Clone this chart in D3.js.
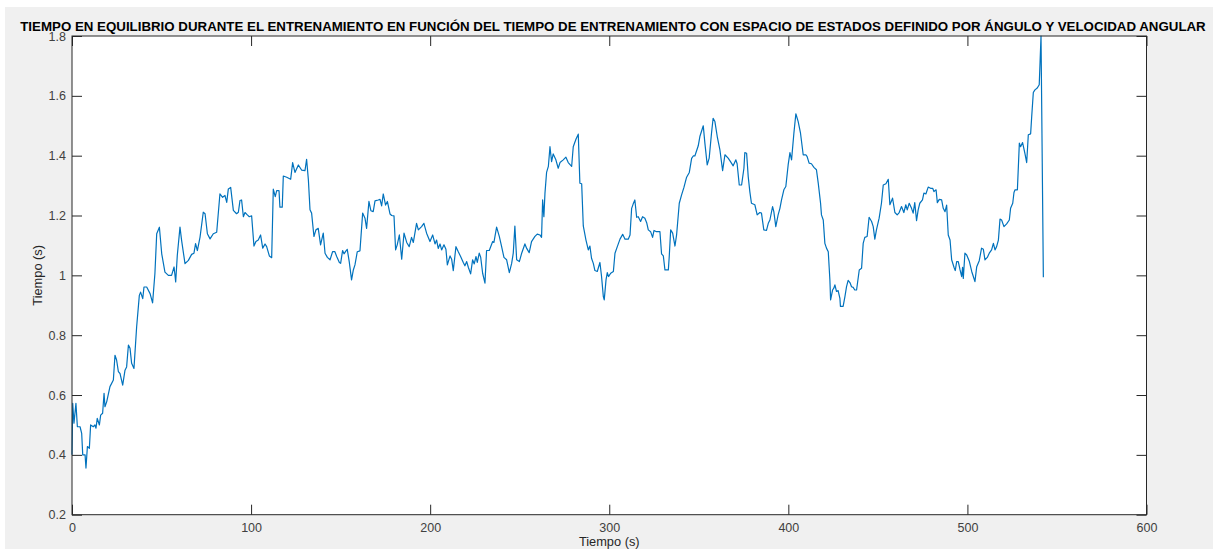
<!DOCTYPE html>
<html>
<head>
<meta charset="utf-8">
<script src="https://cdn.jsdelivr.net/npm/d3@7"></script>
<style>
  html, body { margin: 0; padding: 0; background: #fff; }
  svg text { font-family: "Liberation Sans", Arial, Helvetica, sans-serif; }
</style>
</head>
<body>
<div id="chart"></div>
<script>
// Tiempo en equilibrio vs tiempo de entrenamiento (estilo MATLAB)
const TITLE  = "TIEMPO EN EQUILIBRIO DURANTE EL ENTRENAMIENTO EN FUNCIÓN DEL TIEMPO DE ENTRENAMIENTO CON ESPACIO DE ESTADOS DEFINIDO POR ÁNGULO Y VELOCIDAD ANGULAR";
const XLABEL = "Tiempo (s)";
const YLABEL = "Tiempo (s)";

const xTicks = [0, 100, 200, 300, 400, 500, 600];
const yTicks = [0.2, 0.4, 0.6, 0.8, 1.0, 1.2, 1.4, 1.6, 1.8];

// eje x: tiempo de entrenamiento (s)
const tiempo = [
  0, 0.4, 1.1, 2.2, 3.0, 4.5, 5.4, 6.0, 7.3, 7.8, 8.6, 9.7, 10.4, 11.9, 12.8, 13.4, 14.1, 15.3, 16.0, 17.1,
  17.9, 18.4, 19.4, 21.2, 23.1, 24.0, 24.9, 25.9, 26.8, 28.3, 29.6, 30.5, 31.5, 32.4, 33.3, 34.6, 36.1, 37.6, 38.3, 38.9,
  39.5, 40.2, 41.7, 43.6, 45.0, 46.3, 47.3, 48.8, 50.1, 51.9, 53.8, 55.6, 57.0, 57.9, 58.8, 60.3, 61.2, 63.1, 65.0, 66.8,
  68.1, 69.0, 70.0, 71.5, 73.3, 74.3, 75.6, 77.1, 78.9, 80.8, 82.6, 84.1, 85.4, 86.4, 87.3, 88.6, 90.1, 91.9, 92.9, 93.8,
  94.7, 95.7, 96.6, 97.9, 99.0, 100.3, 101.6, 102.7, 104.0, 105.3, 106.5, 107.8, 108.7, 110.2, 111.5, 112.4, 113.5, 114.3, 115.6, 116.1,
  117.4, 118.0, 119.9, 122.1, 123.2, 124.5, 126.4, 128.2, 130.1, 131.0, 132.0, 132.9, 133.8, 135.1, 136.2, 137.5, 138.8, 140.3, 141.3, 142.6,
  144.1, 145.5, 146.8, 147.8, 149.3, 150.0, 151.1, 151.9, 153.0, 153.7, 154.8, 156.1, 157.1, 158.0, 159.3, 160.8, 162.3, 163.6, 164.5, 165.8,
  166.9, 168.2, 169.2, 171.0, 172.0, 172.9, 173.8, 175.1, 176.1, 177.6, 178.5, 179.8, 180.7, 181.6, 182.8, 184.1, 185.4, 186.9, 188.3, 189.6,
  190.6, 192.4, 193.4, 195.2, 196.5, 198.0, 199.9, 201.4, 202.7, 203.6, 204.5, 205.5, 206.4, 207.7, 208.8, 209.6, 211.1, 212.0, 212.9, 214.4,
  215.7, 217.0, 218.5, 219.4, 220.4, 221.3, 222.6, 223.7, 224.6, 225.6, 226.3, 227.4, 228.2, 229.3, 230.6, 231.5, 233.0, 234.9, 235.6, 237.1,
  238.6, 239.9, 241.2, 242.7, 244.2, 245.5, 246.4, 247.3, 248.3, 249.8, 251.1, 252.9, 253.9, 255.3, 256.6, 258.5, 259.8, 261.3, 262.2, 262.8,
  263.5, 264.1, 265.0, 266.0, 266.9, 267.8, 268.7, 270.2, 271.5, 272.5, 274.3, 275.8, 277.1, 279.0, 279.9, 281.4, 282.7, 283.6, 284.6, 285.5,
  287.0, 288.3, 289.2, 290.1, 291.1, 292.0, 293.3, 294.8, 295.7, 296.7, 297.2, 298.2, 298.9, 299.6, 300.8, 302.3, 303.2, 304.5, 306.0, 307.5,
  308.8, 310.6, 311.6, 312.5, 313.4, 314.3, 315.3, 316.2, 317.5, 318.6, 319.9, 320.9, 321.8, 323.1, 324.2, 325.0, 326.4, 328.3, 329.2, 330.2,
  331.1, 333.0, 333.5, 334.3, 335.4, 336.7, 337.6, 339.1, 340.4, 341.7, 343.2, 344.7, 346.0, 346.9, 347.8, 349.7, 350.6, 352.5, 353.4, 354.7,
  355.8, 357.1, 358.0, 359.0, 360.3, 361.8, 363.3, 364.6, 366.4, 367.7, 369.2, 370.7, 371.4, 372.6, 373.9, 375.2, 375.7, 376.7, 377.6, 378.5,
  379.4, 381.3, 382.6, 384.1, 385.0, 386.3, 387.8, 388.8, 389.7, 391.2, 391.9, 393.0, 394.3, 395.3, 396.2, 397.5, 398.6, 399.9, 400.9, 401.8,
  403.1, 404.2, 405.5, 406.8, 408.3, 409.8, 410.5, 411.6, 412.9, 414.3, 415.7, 416.7, 418.0, 418.5, 419.5, 420.4, 421.3, 422.3, 423.2, 423.6,
  424.7, 425.4, 426.0, 426.9, 427.8, 428.8, 429.1, 430.6, 431.6, 432.5, 433.4, 434.4, 435.3, 436.2, 437.1, 438.1, 439.6, 440.9, 441.8, 442.7,
  444.0, 445.1, 446.5, 447.4, 448.3, 449.2, 450.7, 452.0, 453.0, 454.5, 455.8, 456.7, 458.2, 459.5, 460.8, 461.9, 463.2, 464.5, 465.6, 466.4,
  467.5, 468.8, 469.7, 470.6, 471.6, 472.5, 473.4, 474.9, 475.7, 476.8, 478.1, 479.4, 480.6, 481.3, 482.5, 483.2, 484.3, 485.6, 486.5, 487.5,
  488.4, 489.3, 490.3, 491.2, 492.5, 493.2, 494.0, 494.9, 495.9, 496.8, 497.3, 497.7, 498.6, 499.6, 501.1, 502.4, 503.3, 504.2, 505.2, 506.6,
  507.9, 508.9, 509.8, 511.1, 512.2, 513.5, 514.5, 515.4, 516.3, 517.3, 518.2, 519.1, 520.4, 521.9, 523.4, 524.1, 525.3, 526.0, 526.6, 527.9,
  529.0, 529.7, 530.8, 532.1, 533.1, 534.0, 535.3, 535.9, 536.8, 537.7, 539.0, 540.1, 541.1, 542.4
];

// eje y: tiempo en equilibrio (s)
const equilibrio = [
  0.40, 0.572, 0.506, 0.572, 0.494, 0.494, 0.472, 0.40, 0.40, 0.356, 0.428, 0.422, 0.50, 0.494, 0.50, 0.489, 0.522, 0.50, 0.533, 0.539,
  0.606, 0.561, 0.578, 0.628, 0.65, 0.733, 0.717, 0.678, 0.672, 0.633, 0.683, 0.694, 0.767, 0.756, 0.706, 0.689, 0.828, 0.933, 0.944, 0.933,
  0.922, 0.961, 0.961, 0.939, 0.908, 1.006, 1.139, 1.161, 1.072, 1.011, 1.0, 1.0, 1.028, 0.978, 1.067, 1.161, 1.117, 1.039, 1.05, 1.07,
  1.074, 1.106, 1.083, 1.128, 1.211, 1.206, 1.139, 1.122, 1.139, 1.144, 1.272, 1.261, 1.267, 1.244, 1.289, 1.294, 1.217, 1.206, 1.211, 1.25,
  1.252, 1.196, 1.21, 1.202, 1.196, 1.199, 1.098, 1.113, 1.118, 1.135, 1.091, 1.105, 1.096, 1.065, 1.059, 1.288, 1.263, 1.283, 1.283, 1.228,
  1.228, 1.332, 1.328, 1.321, 1.377, 1.344, 1.369, 1.352, 1.35, 1.388, 1.319, 1.219, 1.208, 1.13, 1.152, 1.157, 1.102, 1.141, 1.074, 1.06,
  1.052, 1.079, 1.079, 1.063, 1.043, 1.04, 1.083, 1.072, 1.082, 1.087, 1.046, 0.985, 1.018, 1.035, 1.079, 1.082, 1.208, 1.191, 1.157, 1.247,
  1.216, 1.213, 1.249, 1.252, 1.254, 1.232, 1.272, 1.235, 1.247, 1.205, 1.2, 1.199, 1.085, 1.102, 1.135, 1.054, 1.141, 1.11, 1.096, 1.127,
  1.11, 1.174, 1.152, 1.163, 1.174, 1.141, 1.113, 1.135, 1.105, 1.118, 1.09, 1.105, 1.085, 1.102, 1.087, 1.035, 1.065, 1.054, 1.016, 1.096,
  1.079, 1.063, 1.043, 1.032, 1.046, 1.027, 1.005, 1.052, 1.038, 1.063, 1.043, 1.074, 1.061, 1.007, 0.974, 1.083, 1.083, 1.113, 1.11, 1.161,
  1.13, 1.096, 1.06, 1.052, 1.009, 1.04, 1.074, 1.165, 1.052, 1.046, 1.074, 1.105, 1.09, 1.076, 1.113, 1.13, 1.138, 1.135, 1.127, 1.252,
  1.196, 1.274, 1.344, 1.364, 1.43, 1.38, 1.406, 1.386, 1.358, 1.377, 1.386, 1.395, 1.377, 1.364, 1.43, 1.455, 1.472, 1.308, 1.306, 1.165,
  1.118, 1.085, 1.098, 1.057, 1.04, 1.016, 1.013, 1.043, 0.996, 0.929, 0.918, 0.985, 1.009, 0.996, 1.007, 1.013, 1.074, 1.096, 1.121, 1.137,
  1.121, 1.121, 1.135, 1.224, 1.239, 1.252, 1.194, 1.196, 1.18, 1.196, 1.191, 1.176, 1.152, 1.146, 1.127, 1.15, 1.146, 1.146, 1.072, 1.065,
  1.018, 1.018, 1.063, 1.152, 1.141, 1.098, 1.135, 1.241, 1.269, 1.294, 1.328, 1.344, 1.391, 1.399, 1.399, 1.433, 1.464, 1.5, 1.442, 1.369,
  1.392, 1.475, 1.525, 1.514, 1.464, 1.419, 1.35, 1.403, 1.392, 1.38, 1.366, 1.386, 1.373, 1.302, 1.302, 1.358, 1.41, 1.408, 1.33, 1.28,
  1.241, 1.236, 1.202, 1.21, 1.208, 1.152, 1.15, 1.174, 1.185, 1.23, 1.213, 1.163, 1.202, 1.224, 1.252, 1.286, 1.297, 1.369, 1.41, 1.386,
  1.475, 1.54, 1.514, 1.475, 1.403, 1.403, 1.397, 1.375, 1.373, 1.361, 1.353, 1.308, 1.241, 1.202, 1.185, 1.107, 1.091, 1.079, 0.985, 0.918,
  0.951, 0.957, 0.968, 0.946, 0.949, 0.923, 0.896, 0.896, 0.929, 0.962, 0.983, 0.976, 0.962, 0.96, 0.951, 0.951, 1.018, 1.024, 1.107, 1.127,
  1.13, 1.194, 1.18, 1.163, 1.121, 1.152, 1.191, 1.241, 1.302, 1.306, 1.321, 1.236, 1.258, 1.21, 1.202, 1.21, 1.23, 1.21, 1.236, 1.219,
  1.241, 1.224, 1.208, 1.243, 1.183, 1.219, 1.241, 1.252, 1.275, 1.272, 1.295, 1.291, 1.291, 1.28, 1.286, 1.243, 1.254, 1.252, 1.224, 1.213,
  1.235, 1.135, 1.118, 1.052, 1.027, 1.016, 1.046, 1.046, 1.018, 0.996, 1.027, 0.99, 1.074, 1.068, 1.046, 1.013, 0.996, 0.979, 1.029, 1.049,
  1.091, 1.087, 1.052, 1.06, 1.074, 1.085, 1.107, 1.085, 1.096, 1.118, 1.188, 1.185, 1.163, 1.172, 1.185, 1.224, 1.241, 1.277, 1.286, 1.286,
  1.442, 1.43, 1.444, 1.408, 1.377, 1.47, 1.473, 1.531, 1.611, 1.62, 1.626, 1.637, 1.80, 0.994
];

/* ---------- layout ---------- */
const W = 1213, H = 549;
const margin = { top: 36, right: W - 1146.5, bottom: H - 514.7, left: 72 };
const AXIS_COLOR = "#262626";
const LINE_COLOR = "#0072bd";
const TICK_LEN = 10;

const svg = d3.select("#chart").append("svg")
  .attr("width", W)
  .attr("height", H);

// fondo gris de la figura
svg.append("rect")
  .attr("x", 5).attr("y", 7)
  .attr("width", W - 5).attr("height", H - 7)
  .attr("fill", "#f0f0f0");

const x = d3.scaleLinear()
  .domain([0, 600])
  .range([margin.left, W - margin.right]);

const y = d3.scaleLinear()
  .domain([0.2, 1.8])
  .range([H - margin.bottom, margin.top]);

// area blanca de los ejes
svg.append("rect")
  .attr("x", x(0)).attr("y", y(1.8))
  .attr("width", x(600) - x(0)).attr("height", y(0.2) - y(1.8))
  .attr("fill", "#fff");

// linea de datos
const pts = tiempo.map((t, i) => ({ t, v: equilibrio[i] }));
const line = d3.line().x(d => x(d.t)).y(d => y(d.v));

svg.append("path")
  .datum(pts)
  .attr("fill", "none")
  .attr("stroke", LINE_COLOR)
  .attr("stroke-width", 1.2)
  .attr("stroke-linejoin", "round")
  .attr("d", line);

/* ---------- ejes ---------- */
const styleAxis = g => {
  g.select(".domain").remove();
  g.selectAll(".tick line").attr("stroke", AXIS_COLOR);
  g.selectAll(".tick text")
    .attr("fill", "#404040")
    .attr("font-size", 12.5);
};

svg.append("g")
  .attr("transform", `translate(0,${y(0.2)})`)
  .call(d3.axisBottom(x).tickValues(xTicks).tickSize(-TICK_LEN).tickPadding(8).tickFormat(d3.format("d")))
  .call(styleAxis);

svg.append("g")
  .attr("transform", `translate(0,${y(1.8)})`)
  .call(d3.axisTop(x).tickValues(xTicks).tickSize(-TICK_LEN).tickFormat(""))
  .call(styleAxis);

svg.append("g")
  .attr("transform", `translate(${x(0)},0)`)
  .call(d3.axisLeft(y).tickValues(yTicks).tickSize(-TICK_LEN).tickPadding(6).tickFormat(d => d === 1 ? "1" : d3.format(".1f")(d)))
  .call(styleAxis);

svg.append("g")
  .attr("transform", `translate(${x(600)},0)`)
  .call(d3.axisRight(y).tickValues(yTicks).tickSize(-TICK_LEN).tickFormat(""))
  .call(styleAxis);

// caja
svg.append("rect")
  .attr("x", x(0)).attr("y", y(1.8))
  .attr("width", x(600) - x(0)).attr("height", y(0.2) - y(1.8))
  .attr("fill", "none")
  .attr("stroke", AXIS_COLOR)
  .attr("stroke-width", 1);

/* ---------- textos ---------- */
const title = svg.append("text")
  .attr("x", 613)
  .attr("y", 31)
  .attr("text-anchor", "middle")
  .attr("font-size", 13)
  .attr("font-weight", "bold")
  .attr("fill", "#000")
  .text(TITLE);
// ajustar al ancho del original (~1187 px)
const tw = title.node().getComputedTextLength();
title.attr("font-size", 13 * 1187 / tw);

svg.append("text")
  .attr("x", (x(0) + x(600)) / 2)
  .attr("y", 545.5)
  .attr("text-anchor", "middle")
  .attr("font-size", 12.8)
  .attr("fill", AXIS_COLOR)
  .text(XLABEL);

svg.append("text")
  .attr("transform", `translate(41.5,${(y(0.2) + y(1.8)) / 2}) rotate(-90)`)
  .attr("text-anchor", "middle")
  .attr("font-size", 12.8)
  .attr("fill", AXIS_COLOR)
  .text(YLABEL);
</script>
</body>
</html>
